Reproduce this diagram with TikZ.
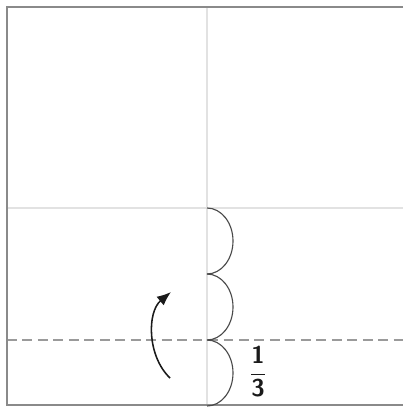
\documentclass[tikz,border=0pt]{standalone}
\usepackage{xcolor}
\usepackage{tikz}
\usepackage{amsmath,amssymb}
\usetikzlibrary{arrows.meta,positioning}
\definecolor{Edge}{HTML}{8A8A8A}
\definecolor{Crease}{HTML}{E2E2E2}
\definecolor{Valley}{HTML}{9A9A9A}
\definecolor{Ink}{HTML}{1A1A1A}
\definecolor{Bump}{HTML}{4A4A4A}
\tikzset{
  paper/.style={Edge,line width=1.2pt},
  creaseline/.style={Crease,line width=1pt},
  valleyline/.style={Valley,line width=0.9pt,dash pattern=on 7pt off 4pt},
  bump/.style={Bump,line width=0.8pt},
  foldarrow/.style={Ink,line width=1.1pt,-{Latex[length=10pt,width=8pt]}}
}
\begin{document}
\begin{tikzpicture}[x=0.025cm,y=-0.025cm]
  \useasboundingbox (0,0) rectangle (403,412);
  \def\rx{26}
  \def\ry{33}
  % square of paper, cut at the right
  \draw[creaseline] (207,7) -- (207,405);
  \draw[creaseline] (7,208) -- (403,208);
  \draw[valleyline] (7,340) -- (403,340);
  \draw[paper] (403,7) -- (7,7) -- (7,405) -- (403,405);
  % three equal parts
  \foreach \y in {208,274,340}
    \draw[bump] (207,\y) arc[start angle=-90,end angle=90,x radius=\rx,y radius=\ry];
  \node[Ink] (third) at (258,372) {\LARGE$\dfrac{\textsf{\textbf{1}}}{\textsf{\textbf{3}}}$};
  % fold up
  \coordinate (from) at (170,378);
  \coordinate (to) at (171,292);
  \draw[foldarrow] (from) .. controls (147,356) and (147,312) .. (to);
\end{tikzpicture}
\end{document}
